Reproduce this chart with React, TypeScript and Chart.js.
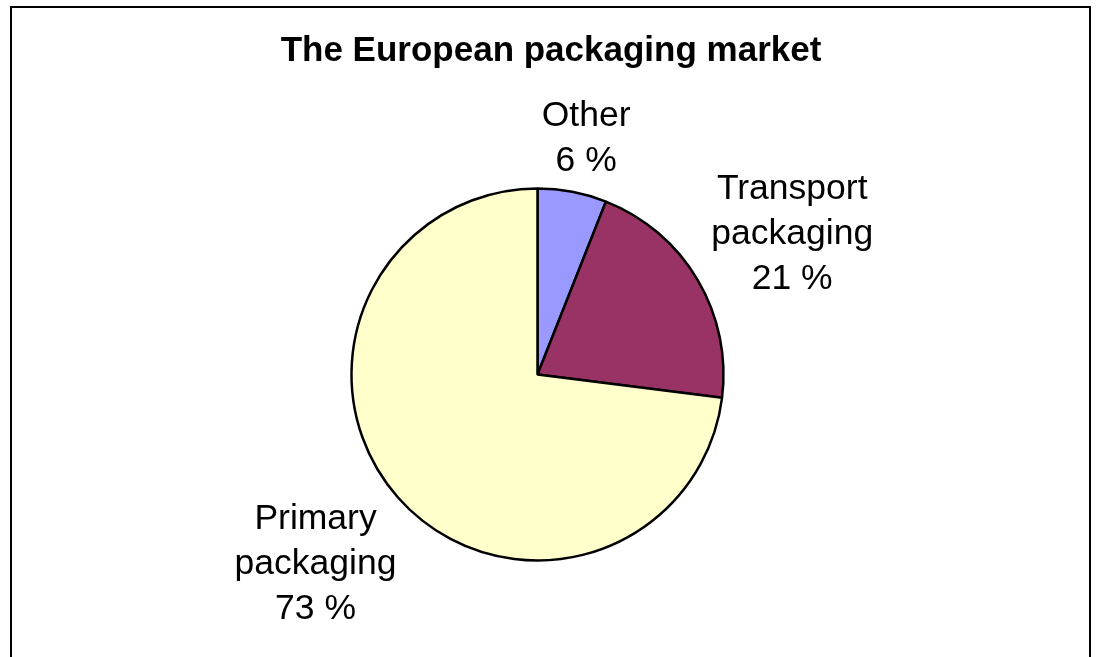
import React, { useEffect, useRef } from "react";
import { Chart, registerables } from "chart.js";

Chart.register(...registerables);

const TITLE = "The European packaging market";
const categories = ["Other", "Transport packaging", "Primary packaging"];
const values = [6, 21, 73];
const sliceColors = ["#9999FF", "#993366", "#FFFFCC"];

const FONT = '"Liberation Sans", Arial, sans-serif';

const frameAndLabels = {
  id: "frameAndLabels",
  beforeDraw(chart: any) {
    const ctx = chart.ctx;
    ctx.save();
    ctx.fillStyle = "#ffffff";
    ctx.fillRect(0, 0, chart.width, chart.height);
    // frame (open at the bottom, cut by the picture)
    ctx.strokeStyle = "#000000";
    ctx.lineWidth = 2;
    ctx.beginPath();
    ctx.moveTo(11, chart.height + 5);
    ctx.lineTo(11, 7);
    ctx.lineTo(1090, 7);
    ctx.lineTo(1090, chart.height + 5);
    ctx.stroke();
    ctx.restore();
  },
  afterDraw(chart: any) {
    const ctx = chart.ctx;
    ctx.save();
    // title
    ctx.fillStyle = "#000000";
    ctx.font = `bold 35px ${FONT}`;
    ctx.textAlign = "center";
    ctx.textBaseline = "alphabetic";
    ctx.fillText(TITLE, 551, 61);

    // data labels outside the slices
    const meta = chart.getDatasetMeta(0);
    const lh = 45;
    const gap = 28;
    const minTop = 90;
    ctx.font = `35.5px ${FONT}`;
    meta.data.forEach((arc: any, i: number) => {
      const p = arc.getProps(["x", "y", "startAngle", "endAngle", "outerRadius"], true);
      const mid = (p.startAngle + p.endAngle) / 2;
      const c = Math.cos(mid);
      const s = Math.sin(mid);
      const lines = [...categories[i].split(" "), `${values[i]} %`];
      const hw = Math.max(...lines.map((l) => ctx.measureText(l).width)) / 2;
      const hh = (lines.length * lh) / 2;
      const R = p.outerRadius + 1 + gap;
      const cx = p.x + R * c + hw * c;
      let cy = p.y + R * s + hh * s;
      if (cy - hh < minTop) cy = minTop + hh;
      lines.forEach((l, k) => {
        ctx.fillText(l, cx, cy - hh + lh / 2 + k * lh + 13);
      });
    });
    ctx.restore();
  },
};

export default function App() {
  const ref = useRef<HTMLCanvasElement | null>(null);
  useEffect(() => {
    if (!ref.current) return;
    const chart = new Chart(ref.current, {
      type: "pie",
      data: {
        labels: categories,
        datasets: [
          {
            data: values,
            backgroundColor: sliceColors,
            borderColor: "#000000",
            borderWidth: 2.5,
          },
        ],
      },
      options: {
        responsive: false,
        animation: false,
        radius: 186,
        layout: { padding: { left: 337.5, right: 359.5, top: 174.5, bottom: 82.5 } },
        plugins: {
          legend: { display: false },
          title: { display: false },
          tooltip: { enabled: false },
        },
      },
      plugins: [frameAndLabels],
    } as any);
    return () => chart.destroy();
  }, []);
  return (
    <div style={{ position: "absolute", left: 0, top: 0, width: 1097, height: 657 }}>
      <canvas ref={ref} width={1097} height={657} />
    </div>
  );
}
